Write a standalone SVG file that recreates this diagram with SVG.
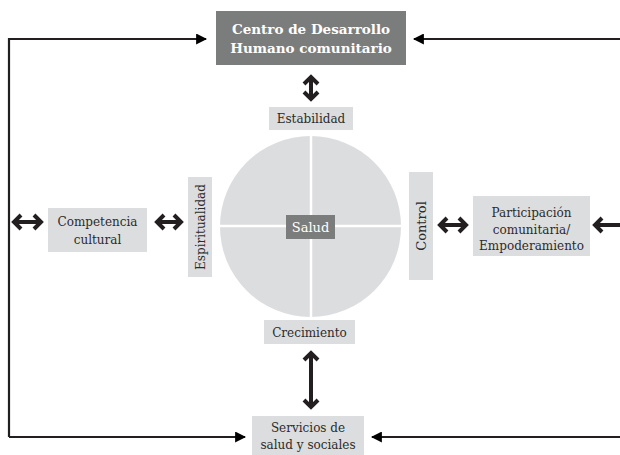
<svg xmlns="http://www.w3.org/2000/svg" width="620" height="455" viewBox="0 0 620 455">
<defs>
<style>
.lt{fill:#dcdddf}
.dk{fill:#7b7d7c}
.t{font-family:"DejaVu Serif","Liberation Serif",serif;font-size:12px;fill:#2b2b2b;text-anchor:middle}
.tw{font-family:"DejaVu Serif","Liberation Serif",serif;font-size:13px;fill:#fff;text-anchor:middle}
.tb{font-family:"DejaVu Serif","Liberation Serif",serif;font-size:13.5px;font-weight:bold;fill:#fff;text-anchor:middle}
.ln{fill:none;stroke:#231f20;stroke-width:2.2}
.da{fill:none;stroke:#231f20;stroke-width:4;stroke-linejoin:miter;stroke-miterlimit:4}
</style>
<marker id="ah" viewBox="0 0 10 10" refX="9" refY="5" markerWidth="5" markerHeight="5" orient="auto" markerUnits="strokeWidth"><path d="M0,0 L10,5 L0,10 z" fill="#000"/></marker>
</defs>
<g id="connectors">
<path class="ln" d="M9,437 V39 H206" marker-end="url(#ah)"/>
<path class="ln" d="M620,39 H414" marker-end="url(#ah)"/>
<path class="ln" d="M9,437 H245" marker-end="url(#ah)"/>
<path class="ln" d="M620,437 H372" marker-end="url(#ah)"/>
<path class="da" d="M311,79 V97 M304,84 L311,77 L318,84 M304,92 L311,99 L318,92"/>
<path class="da" d="M311,355 V405 M304,360 L311,353 L318,360 M304,400 L311,407 L318,400"/>
<path class="da" d="M16,222 H39 M21,215 L14,222 L21,229 M34,215 L41,222 L34,229"/>
<path class="da" d="M159,222 H179 M164,215 L157,222 L164,229 M174,215 L181,222 L174,229"/>
<path class="da" d="M442,225 H464 M447,218 L440,225 L447,232 M459,218 L466,225 L459,232"/>
<path class="da" d="M597,225 H622 M602,218 L595,225 L602,232"/>
</g>
<g id="centro">
<rect class="dk" x="216" y="11" width="190" height="54"/>
<text class="tb" x="311" y="34">Centro de Desarrollo</text>
<text class="tb" x="311" y="53">Humano comunitario</text>
</g>
<g id="estabilidad">
<rect class="lt" x="269" y="107" width="84" height="23"/>
<text class="t" x="311" y="123">Estabilidad</text>
</g>
<g id="circulo">
<circle class="lt" cx="310.5" cy="226.5" r="90.5"/>
<path d="M311,136 V317 M220,226 H401" stroke="#fff" stroke-width="2.5"/>
</g>
<g id="salud">
<rect class="dk" x="286" y="215" width="49" height="24"/>
<text class="tw" x="310.5" y="232">Salud</text>
</g>
<g id="crecimiento">
<rect class="lt" x="264" y="320" width="91" height="24"/>
<text class="t" x="309.5" y="337">Crecimiento</text>
</g>
<g id="servicios">
<rect class="lt" x="252" y="416" width="112" height="39"/>
<text class="t" x="308" y="432">Servicios de</text>
<text class="t" x="308" y="449">salud y sociales</text>
</g>
<g id="competencia">
<rect class="lt" x="48" y="208" width="99" height="44"/>
<text class="t" x="97.5" y="226">Competencia</text>
<text class="t" x="97.5" y="244">cultural</text>
</g>
<g id="espiritualidad">
<rect class="lt" x="188" y="177" width="24" height="100"/>
<text class="t" transform="translate(204.5,227) rotate(-90)">Espiritualidad</text>
</g>
<g id="control">
<rect class="lt" x="409" y="172" width="24" height="108"/>
<text class="t" transform="translate(425.5,226) rotate(-90)" style="font-size:13px">Control</text>
</g>
<g id="participacion">
<rect class="lt" x="473" y="196" width="117" height="60"/>
<text class="t" x="531.5" y="217">Participación</text>
<text class="t" x="531.5" y="234">comunitaria/</text>
<text class="t" x="531.5" y="250">Empoderamiento</text>
</g>
</svg>
